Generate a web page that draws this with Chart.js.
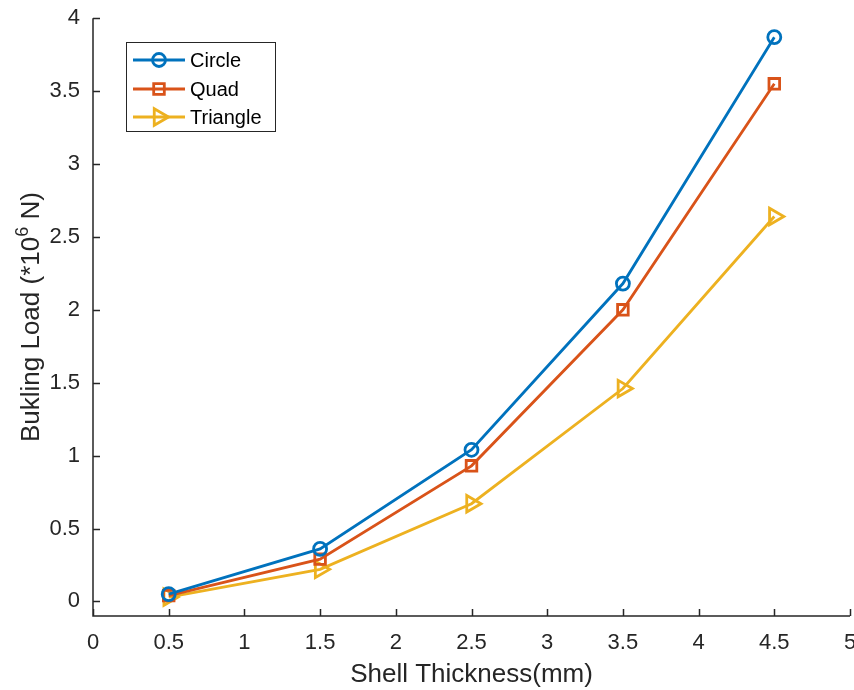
<!DOCTYPE html>
<html>
<head>
<meta charset="utf-8">
<script src="https://cdn.jsdelivr.net/npm/chart.js@4.4.1/dist/chart.umd.min.js"></script>
<style>
  html, body { margin: 0; padding: 0; background: #fff; }
  #c { display: block; }
</style>
</head>
<body>
<canvas id="c" width="854" height="690"></canvas>
<script>
// 데이터
const thickness = [0.5, 1.5, 2.5, 3.5, 4.5];
const circleLoad = [0.05, 0.36, 1.04, 2.18, 3.87];
const quadLoad = [0.04, 0.29, 0.93, 2.00, 3.55];
const triangleLoad = [0.03, 0.22, 0.67, 1.46, 2.64];

const xTicks = [0, 0.5, 1, 1.5, 2, 2.5, 3, 3.5, 4, 4.5, 5];
const yTicks = [0, 0.5, 1, 1.5, 2, 2.5, 3, 3.5, 4];

const AXIS = '#262626';
const FONT = '"Liberation Sans", Arial, sans-serif';

const pts = (ys) => thickness.map((x, i) => ({ x, y: ys[i] }));

// 안쪽 눈금, 축선, 범례, y축 제목
const decor = {
  id: 'decor',
  afterDraw(chart) {
    const { ctx, chartArea: a, scales: { x, y } } = chart;
    ctx.save();
    ctx.strokeStyle = AXIS;
    ctx.lineWidth = 1.5;
    ctx.beginPath();
    ctx.moveTo(a.left, a.top);
    ctx.lineTo(a.left, a.bottom);
    ctx.lineTo(a.right, a.bottom);
    for (const v of xTicks) {
      const px = Math.round(x.getPixelForValue(v)) + 0.5;
      ctx.moveTo(px, a.bottom);
      ctx.lineTo(px, a.bottom - 7);
    }
    for (const v of yTicks) {
      const py = Math.round(y.getPixelForValue(v)) + 0.5;
      ctx.moveTo(a.left, py);
      ctx.lineTo(a.left + 7, py);
    }
    ctx.stroke();

    // 범례
    const lx = 126, ly = 42, lw = 149, lh = 89;
    ctx.fillStyle = '#fff';
    ctx.fillRect(lx, ly, lw, lh);
    ctx.lineWidth = 1;
    ctx.strokeStyle = AXIS;
    ctx.strokeRect(lx + 0.5, ly + 0.5, lw, lh);
    const rows = [60, 89, 117];
    chart.data.datasets.forEach((ds, i) => {
      const ry = rows[i];
      ctx.strokeStyle = ds.borderColor;
      ctx.fillStyle = 'rgba(0,0,0,0)';
      ctx.lineWidth = ds.borderWidth;
      ctx.beginPath();
      ctx.moveTo(133, ry);
      ctx.lineTo(185, ry);
      ctx.stroke();
      Chart.helpers.drawPoint(ctx, {
        pointStyle: ds.pointStyle,
        radius: ds.pointRadius,
        rotation: ds.pointRotation || 0,
        borderWidth: ds.pointBorderWidth
      }, 159, ry);
      ctx.fillStyle = '#000';
      ctx.font = '20px ' + FONT;
      ctx.textAlign = 'left';
      ctx.textBaseline = 'middle';
      ctx.fillText(ds.label, 190, ry + 1);
    });

    // y축 제목 (위첨자 포함)
    ctx.fillStyle = '#262626';
    ctx.translate(30, (a.top + a.bottom) / 2);
    ctx.rotate(-Math.PI / 2);
    ctx.textBaseline = 'alphabetic';
    ctx.textAlign = 'left';
    const main = '26px ' + FONT, sup = '18px ' + FONT;
    const p1 = 'Bukling Load (*10', p2 = '6', p3 = ' N)';
    ctx.font = main; const w1 = ctx.measureText(p1).width, w3 = ctx.measureText(p3).width;
    ctx.font = sup; const w2 = ctx.measureText(p2).width;
    let sx = -(w1 + w2 + w3) / 2;
    const base = 9;
    ctx.font = main; ctx.fillText(p1, sx, base); sx += w1;
    ctx.font = sup; ctx.fillText(p2, sx, base - 11); sx += w2;
    ctx.font = main; ctx.fillText(p3, sx, base);
    ctx.restore();
  }
};

new Chart(document.getElementById('c'), {
  type: 'line',
  data: {
    datasets: [
      { label: 'Circle', data: pts(circleLoad), borderColor: '#0072BD', pointStyle: 'circle', pointRadius: 6.5 },
      { label: 'Quad', data: pts(quadLoad), borderColor: '#D95319', pointStyle: 'rect', pointRadius: 7.5 },
      { label: 'Triangle', data: pts(triangleLoad), borderColor: '#EDB120', pointStyle: 'triangle', pointRadius: 9.5, pointRotation: 90 }
    ].map(d => Object.assign({
      borderWidth: 2.8,
      pointBorderWidth: 2.8,
      pointBorderColor: d.borderColor,
      pointBackgroundColor: 'rgba(0,0,0,0)',
      backgroundColor: 'rgba(0,0,0,0)',
      tension: 0,
      clip: false
    }, d))
  },
  options: {
    responsive: false,
    animation: false,
    events: [],
    layout: { autoPadding: false, padding: { top: 18, right: 4, left: 0, bottom: 0 } },
    plugins: { legend: { display: false }, tooltip: { enabled: false } },
    scales: {
      x: {
        type: 'linear',
        min: 0, max: 5,
        afterBuildTicks: (s) => { s.ticks = xTicks.map(v => ({ value: v })); },
        afterFit: (s) => { s.height = 74; s.paddingRight = 0; s.paddingLeft = 0; },
        grid: { display: false },
        border: { display: false },
        ticks: { color: AXIS, font: { family: FONT, size: 22 }, padding: 6, maxRotation: 0, callback: (v) => String(v) },
        title: { display: true, text: 'Shell Thickness(mm)', color: AXIS, font: { family: FONT, size: 26 }, padding: { top: 4, bottom: 0 } }
      },
      y: {
        type: 'linear',
        min: -0.1, max: 4,
        afterBuildTicks: (s) => { s.ticks = yTicks.map(v => ({ value: v })); },
        afterFit: (s) => { s.width = 93; },
        grid: { display: false },
        border: { display: false },
        ticks: { color: AXIS, font: { family: FONT, size: 22 }, padding: 5, callback: (v) => String(v) }
      }
    }
  },
  plugins: [decor]
});
</script>
</body>
</html>
